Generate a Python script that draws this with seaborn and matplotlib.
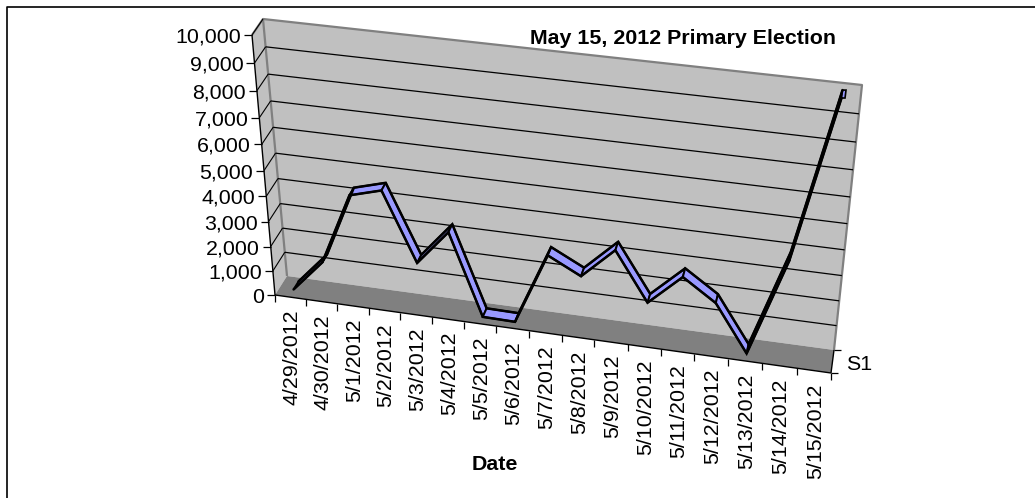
#!/usr/bin/env python3
# coding=utf-8
import matplotlib
matplotlib.use('Agg')
import matplotlib.pyplot as plt
import matplotlib.transforms as mtransforms
import numpy as np
import pandas as pd
import seaborn as sns

dates = ['4/29/2012', '4/30/2012', '5/1/2012', '5/2/2012', '5/3/2012', '5/4/2012',
         '5/5/2012', '5/6/2012', '5/7/2012', '5/8/2012', '5/9/2012', '5/10/2012',
         '5/11/2012', '5/12/2012', '5/13/2012', '5/14/2012', '5/15/2012']
votes = [100, 1400, 4250, 4600, 1900, 3300, 50, 30, 2900, 2250, 3450, 1550,
         2750, 1900, 50, 3900, 9950]
y_ticks = [0, 1000, 2000, 3000, 4000, 5000, 6000, 7000, 8000, 9000, 10000]

W, H = 1035, 498
Y_MAX = 10000.0
N = len(dates)

# corners of the 3d box in image pixels: bottom left, bottom right, top left, top right
BACK = np.array([(287, 276), (834, 350), (263, 19), (862, 85)], dtype=float)
FRONT = np.array([(275, 295), (831, 373), (252, 35), (860, 104)], dtype=float)
GREY = '#c0c0c0'
DARK = '#808080'
BLUE = '#9999ff'
FS = 15.4


def fit_homography(dst):
    src = [(0, 0), (1, 0), (0, 1), (1, 1)]
    a, b = [], []
    for (u, v), (x, y) in zip(src, dst):
        a.append([u, v, 1, 0, 0, 0, -u * x, -v * x])
        a.append([0, 0, 0, u, v, 1, -u * y, -v * y])
        b += [x, y]
    return np.append(np.linalg.solve(np.array(a), np.array(b)), 1).reshape(3, 3)


class BoxTransform(mtransforms.Transform):
    # data (category position, value) at a depth in the box -> display pixels
    input_dims = 2
    output_dims = 2

    def __init__(self, depth):
        super().__init__()
        self.m = fit_homography(BACK + (FRONT - BACK) * depth)

    def transform_non_affine(self, values):
        values = np.asarray(values, dtype=float)
        p = np.column_stack([values[:, 0] / N, values[:, 1] / Y_MAX, np.ones(len(values))])
        q = p @ self.m.T
        return np.column_stack([q[:, 0] / q[:, 2], H - q[:, 1] / q[:, 2]])


def px(points):
    return [(x, H - y) for x, y in points]


def main():
    sns.set_style('white')
    plt.rcParams['font.family'] = ['Liberation Sans', 'DejaVu Sans']
    fig = plt.figure(figsize=(W / 100, H / 100), dpi=100)
    ax = fig.add_axes([0, 0, 1, 1])
    ax.set_xlim(0, N)
    ax.set_ylim(0, Y_MAX)
    ax.set_axis_off()
    screen = mtransforms.IdentityTransform()

    def poly(points, color, z):
        ax.add_patch(plt.Polygon(px(points), closed=True, facecolor=color, edgecolor='none',
                                 transform=screen, clip_on=False, zorder=z))

    def seg(points, color='black', lw=1.0, z=3, transform=screen):
        xs, ys = zip(*points)
        ax.plot(xs, ys, color=color, lw=lw, transform=transform, clip_on=False, zorder=z,
                solid_capstyle='butt')

    # outer chart frame, only left and top survive in the picture
    seg(px([(6.5, H), (6.5, 6.5), (W, 6.5)]), lw=1.2, z=1)

    # walls and floor
    poly([BACK[0], BACK[1], BACK[3], BACK[2]], GREY, 1)
    poly([BACK[0], BACK[2], FRONT[2], FRONT[0]], GREY, 1)
    poly([BACK[0], BACK[1], FRONT[1], FRONT[0]], DARK, 2)
    seg(px([BACK[0], BACK[2], BACK[3], BACK[1]]), DARK, 1.6, 2)
    seg(px([BACK[2], FRONT[2]]), DARK, 1.6, 2)

    back = BoxTransform(0.0)
    front = BoxTransform(1.0)
    near = BoxTransform(0.72)
    far = BoxTransform(0.30)

    # gridlines on back wall and side wall, ticks on the value axis
    for v in y_ticks:
        if 0 < v < Y_MAX:
            seg([(0, v), (N, v)], lw=0.9, z=3, transform=back)
        if v > 0:
            a = front.transform([(0, v)])[0]
            b = back.transform([(0, v)])[0]
            seg([a, b], lw=0.8, z=3)
        a = front.transform([(0, v)])[0]
        seg([a, (a[0] - 8, a[1])], lw=0.9, z=4)
        ax.text(a[0] - 11, a[1], format(v, ','), transform=screen, ha='right', va='center_baseline',
                fontsize=FS, color='black', clip_on=False)
    seg([front.transform([(0, 0)])[0], front.transform([(0, Y_MAX)])[0]], lw=1.0, z=4)
    seg([front.transform([(0, 0)])[0], front.transform([(N, 0)])[0]], lw=1.0, z=4)

    # category ticks and date labels
    for i in range(N + 1):
        a = front.transform([(i, 0)])[0]
        seg([a, (a[0], a[1] - 7)], lw=0.9, z=4)
    for i, d in enumerate(dates):
        a = front.transform([(i + 0.5, 0)])[0]
        ax.text(a[0] + 1.5, a[1] - 12.5, d, transform=screen, rotation=90, ha='center', va='top',
                fontsize=FS, color='black', clip_on=False)

    # depth axis with its single series label
    seg(px([FRONT[1], BACK[1]]), lw=1.0, z=4)
    seg(px([BACK[1], BACK[1] + (6.5, 0)]), lw=0.9, z=4)
    seg(px([FRONT[1], FRONT[1] + (6.5, 0)]), lw=0.9, z=4)
    ax.text(846, H - 362, 'S1', transform=screen, ha='left', va='center_baseline', fontsize=FS,
            color='black', clip_on=False)

    # ribbon: face per segment, then the two edges from seaborn
    df = pd.DataFrame({'pos': np.arange(N) + 0.5, 'votes': votes})
    pts = df[['pos', 'votes']].to_numpy()
    near_px = near.transform(pts)
    far_px = far.transform(pts)
    for i in range(N - 1):
        ax.add_patch(plt.Polygon([near_px[i], near_px[i + 1], far_px[i + 1], far_px[i]], closed=True,
                                 facecolor=BLUE, edgecolor='black', lw=1.4, joinstyle='miter',
                                 transform=screen, clip_on=False, zorder=5 + i * 0.01))
    ax.add_patch(plt.Polygon([near_px[-1], far_px[-1], far_px[-1] + (3.5, 0), near_px[-1] + (3.5, 0)],
                             closed=True, facecolor=BLUE, edgecolor='black', lw=1.2,
                             transform=screen, clip_on=False, zorder=5.5))
    for tr in (far, near):
        before = len(ax.lines)
        sns.lineplot(data=df, x='pos', y='votes', color='black', lw=1.8, ax=ax, legend=False,
                     errorbar=None, solid_joinstyle='miter')
        line = ax.lines[before]
        line.set_transform(tr)
        line.set_clip_on(False)
        line.set_zorder(6)
    ax.set_axis_off()
    ax.set_xlim(0, N)
    ax.set_ylim(0, Y_MAX)

    ax.text(683, H - 36, 'May 15, 2012 Primary Election', transform=screen, ha='center',
            va='center_baseline', fontsize=FS, fontweight='bold', color='black')
    ax.text(495, H - 462, 'Date', transform=screen, ha='center', va='center_baseline',
            fontsize=FS, fontweight='bold', color='black')

    plt.savefig('out.png', dpi=100)
    plt.close('all')


if __name__ == '__main__':
    main()
